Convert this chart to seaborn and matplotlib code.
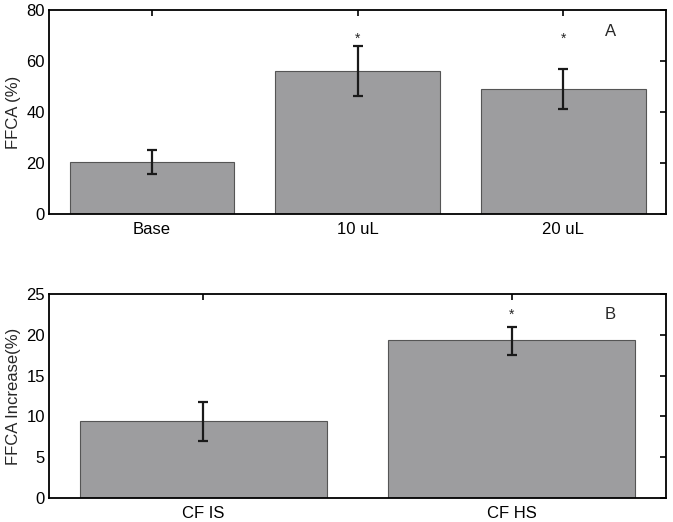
import numpy as np
import pandas as pd
import matplotlib
matplotlib.use("Agg")
import matplotlib.pyplot as plt
import seaborn as sns

# data panel A
groups_a = ["Base", "10 uL", "20 uL"]
ffca_a = [20.4, 56.1, 48.9]
err_lo_a = [15.7, 46.3, 41.0]
err_hi_a = [25.1, 65.9, 57.0]
sig_a = [False, True, True]

# data panel B
groups_b = ["CF IS", "CF HS"]
ffca_b = [9.4, 19.3]
err_lo_b = [7.0, 17.5]
err_hi_b = [11.75, 21.0]
sig_b = [False, True]

sns.set_style("white")
plt.rcParams['font.family'] = ['Liberation Sans', 'DejaVu Sans']
plt.rcParams['font.size'] = 12

bar_col = "#9d9d9f"

fig = plt.figure(figsize=(6.73, 5.22), dpi=100)
ax1 = fig.add_axes([0.0728, 0.590, 0.917, 0.391])
ax2 = fig.add_axes([0.0728, 0.046, 0.917, 0.391])


def panel(ax, groups, vals, lo, hi, sig, ylim, yticks, ylabel, letter, letter_pos, star_y):
    df = pd.DataFrame({"grp": groups, "val": vals})
    sns.barplot(data=df, x="grp", y="val", color=bar_col, edgecolor="#555555",
                linewidth=0.8, errorbar=None, width=0.8, saturation=1, ax=ax)
    x = np.arange(len(groups))
    v = np.array(vals)
    yerr = [v - np.array(lo), np.array(hi) - v]
    ax.errorbar(x, v, yerr=yerr, fmt="none", ecolor="#1a1a1a", elinewidth=1.6,
                capsize=3.5, capthick=1.6)
    for xi, s in zip(x, sig):
        if s:
            ax.text(xi, star_y, "*", ha="center", va="center", fontsize=10)
    ax.text(letter_pos[0], letter_pos[1], letter, ha="center", va="center", fontsize=12)
    ax.set_xlim(-0.5, len(groups) - 0.5)
    ax.set_ylim(*ylim)
    ax.set_yticks(yticks)
    ax.set_xlabel("")
    ax.set_ylabel(ylabel, fontsize=12, labelpad=4)
    ax.tick_params(direction="in", top=True, right=True, length=4, width=1.2,
                   labelsize=12, colors="black", pad=3)
    ax.tick_params(axis="x", pad=6)
    for sp in ax.spines.values():
        sp.set_visible(True)
        sp.set_linewidth(1.3)
        sp.set_color("black")


panel(ax1, groups_a, ffca_a, err_lo_a, err_hi_a, sig_a, (0, 80), [0, 20, 40, 60, 80],
      "FFCA (%)", "A", (2.23, 71.4), 68.6)
panel(ax2, groups_b, ffca_b, err_lo_b, err_hi_b, sig_b, (0, 25), [0, 5, 10, 15, 20, 25],
      "FFCA Increase(%)", "B", (1.32, 22.5), 22.5)

fig.savefig("out.png", dpi=100)
